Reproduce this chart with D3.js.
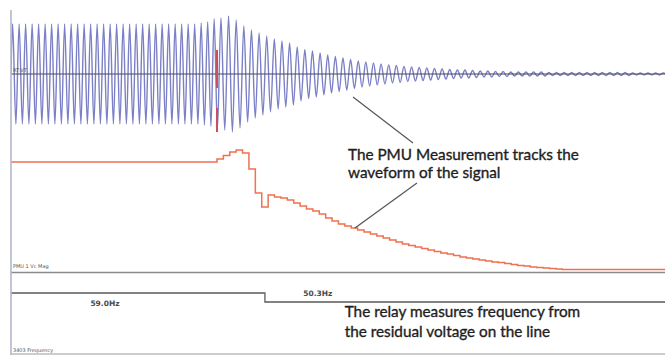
<!DOCTYPE html>
<html><head><meta charset="utf-8">
<script src="https://cdn.jsdelivr.net/npm/d3@7"></script>
<style>
html,body{margin:0;padding:0;background:#fff;}
svg{display:block;}
</style></head>
<body>
<svg id="chart" width="665" height="356"></svg>
<script>
// ---------- DATA ----------
const timeDomain = [0, 1705];             // ms shown across the record
const waveFreqs = [59.0, 50.3];           // Hz before / after the trip
// peak amplitude (% of nominal) of each cycle, before the trip (59.0 Hz)
const waveAmpPre = [100,100,100,100,100,100,100,100,100,100,100,100,100,100,100,100,
  100,100,100,100,100,100,100,100,100,100,100,100,100,102,104,110];
// peak amplitude (% of nominal) of each cycle after the trip (50.3 Hz)
const waveAmpPost = [112,116,108,96,88,82,76,70,66,62,54,49,46,42,38,35,32,29,26,24,
  22,20,18,17,15,14,13,12,11,10,9,8,8,7,6,6,5,5,4,4,4,4,4,3,3,3,3,3,3,3,3,3,3,3,2,2,2,2,2];
const markerTime = 537;                   // ms, trip cursor
const markerSpans = [[48,-28],[-68,-116]];// cursor segments in wave units

const pmuPreValue = 100;                  // PMU 1 Vc Mag, % before the event
const pmuStart = 537;                     // ms of first changing report
const pmuInterval = 16.67;                // ms between reports
const pmuValues = [102.8,106,109.3,111.1,108.3,93.5,71.3,58.3,69.4,67.6,66.7,64.8,62,59.3,
  56.5,54.6,51.9,48.1,45.4,42.6,40.7,38.9,37,35.2,33.3,31.5,29.6,27.8,25.9,24.1,22.7,21.3,
  19.9,18.5,17.1,15.7,14.8,13.4,12,11.1,10.2,9.3,8.3,7.4,6.9,6,5.1,4.2,3.7,2.8,2.3,1.9,1.4,0.9,0.5];

const freqTimes = [0, 662];               // ms where each reading starts
const freqValues = [59.0, 50.3];          // Hz
const freqLabels = ["59.0Hz", "50.3Hz"];
const channelNames = ["RT:VT", "PMU 1 Vc Mag", "3403  Frequency"];

const noteText1 = ["The PMU Measurement tracks the", "waveform of the signal"];
const noteText2 = ["The relay measures frequency from", "the residual voltage on the line"];

// ---------- SCALES ----------
const svg = d3.select("#chart");
const x = d3.scaleLinear().domain(timeDomain).range([11, 665]);
const yWave = d3.scaleLinear().domain([-100, 100]).range([124, 24]);
const yPmu = d3.scaleLinear().domain([0, 100]).range([270, 162]);
const yFreq = d3.scaleLinear().domain([50.3, 59.0]).range([302, 293]);

svg.append("defs").append("clipPath").attr("id","plot")
  .append("rect").attr("x",11).attr("y",0).attr("width",654).attr("height",356);

// ---------- WAVEFORM ----------
const wavePts = [{t:0, v:0}];
let t = 0;
[[waveAmpPre, waveFreqs[0]], [waveAmpPost, waveFreqs[1]]].forEach(([amps, f]) => {
  const T = 1000 / f;
  amps.forEach(a => {
    wavePts.push({t: t + T/4, v: a});
    wavePts.push({t: t + 3*T/4, v: -a});
    t += T;
  });
});
const g = svg.append("g").attr("clip-path","url(#plot)");

g.append("path").datum(wavePts)
  .attr("fill","none").attr("stroke","#7b7fc6").attr("stroke-width",1.4)
  .attr("d", d3.line().x(d=>x(d.t)).y(d=>yWave(d.v)).curve(d3.curveMonotoneX));

// zero line
g.append("line").attr("x1",x(timeDomain[0])).attr("x2",x(timeDomain[1]))
  .attr("y1",yWave(0)).attr("y2",yWave(0)).attr("stroke","#4a4a55").attr("stroke-width",1.2);

// trip cursor
markerSpans.forEach(([a,b]) => {
  g.append("line").attr("x1",x(markerTime)).attr("x2",x(markerTime))
    .attr("y1",yWave(a)).attr("y2",yWave(b))
    .attr("stroke","#c8505a").attr("stroke-width",2);
});

// ---------- PMU MAGNITUDE ----------
const pmuPts = [{t:0, v:pmuPreValue}];
pmuValues.forEach((v,i) => pmuPts.push({t: pmuStart + i*pmuInterval, v}));
pmuPts.push({t: timeDomain[1], v: pmuValues[pmuValues.length-1]});

// panel separators
g.append("line").attr("x1",11).attr("x2",665).attr("y1",yPmu(0)+2.5).attr("y2",yPmu(0)+2.5)
  .attr("stroke","#8a8a8a").attr("stroke-width",1.5);
g.append("line").attr("x1",11).attr("x2",665).attr("y1",354).attr("y2",354)
  .attr("stroke","#9a9a9a").attr("stroke-width",1.2);

g.append("path").datum(pmuPts)
  .attr("fill","none").attr("stroke","#f0714f").attr("stroke-width",1.5)
  .attr("d", d3.line().x(d=>x(d.t)).y(d=>yPmu(d.v)).curve(d3.curveStepAfter));

// ---------- FREQUENCY ----------
const freqPts = freqTimes.map((tt,i)=>({t:tt, v:freqValues[i]}));
freqPts.push({t: timeDomain[1], v: freqValues[freqValues.length-1]});
g.append("path").datum(freqPts)
  .attr("fill","none").attr("stroke","#5a5a5a").attr("stroke-width",1.3)
  .attr("d", d3.line().x(d=>x(d.t)).y(d=>yFreq(d.v)).curve(d3.curveStepAfter));

const freqLabelPos = [{t:245, dy:13}, {t:800, dy:-6}];
freqLabels.forEach((s,i) => {
  svg.append("text").attr("x", x(freqLabelPos[i].t)).attr("y", yFreq(freqValues[i]) + freqLabelPos[i].dy)
    .attr("text-anchor","middle").attr("font-family","DejaVu Sans, sans-serif")
    .attr("font-size",7.5).attr("font-weight","bold").attr("fill","#4a4a4a").text(s);
});

// left border
svg.append("line").attr("x1",11).attr("x2",11).attr("y1",10).attr("y2",355)
  .attr("stroke","#b3b7c9").attr("stroke-width",1.6);

// channel names
const chY = [yWave(0)-2, yPmu(0)-2, 352];
channelNames.forEach((s,i) => {
  svg.append("text").attr("x",13).attr("y",chY[i])
    .attr("font-family","DejaVu Sans, sans-serif").attr("font-size",5)
    .attr("fill","#555").text(s);
});

// ---------- ANNOTATIONS ----------
const noteFont = "Lato, 'Open Sans', sans-serif";
const tx = x(878.6);
noteText1.forEach((s,i) => {
  svg.append("text").attr("x",tx).attr("y",160 + i*18)
    .attr("font-family",noteFont).attr("font-size",15.3).attr("fill","#1e1e1e")
    .attr("stroke","#1e1e1e").attr("stroke-width",0.35).text(s);
});
noteText2.forEach((s,i) => {
  svg.append("text").attr("x",x(870)).attr("y",317 + i*20)
    .attr("font-family",noteFont).attr("font-size",15.3).attr("fill","#1e1e1e")
    .attr("stroke","#1e1e1e").attr("stroke-width",0.35).text(s);
});
// leader lines (anchored in data space)
svg.append("line").attr("x1",x(891.6)).attr("y1",yWave(-46))
  .attr("x2",x(1048)).attr("y2",yWave(-138)).attr("stroke","#555").attr("stroke-width",1.2);
svg.append("line").attr("x1",x(1058.4)).attr("y1",yPmu(80.6))
  .attr("x2",x(896.8)).attr("y2",yPmu(38.9)).attr("stroke","#555").attr("stroke-width",1.2);
</script>
</body></html>
